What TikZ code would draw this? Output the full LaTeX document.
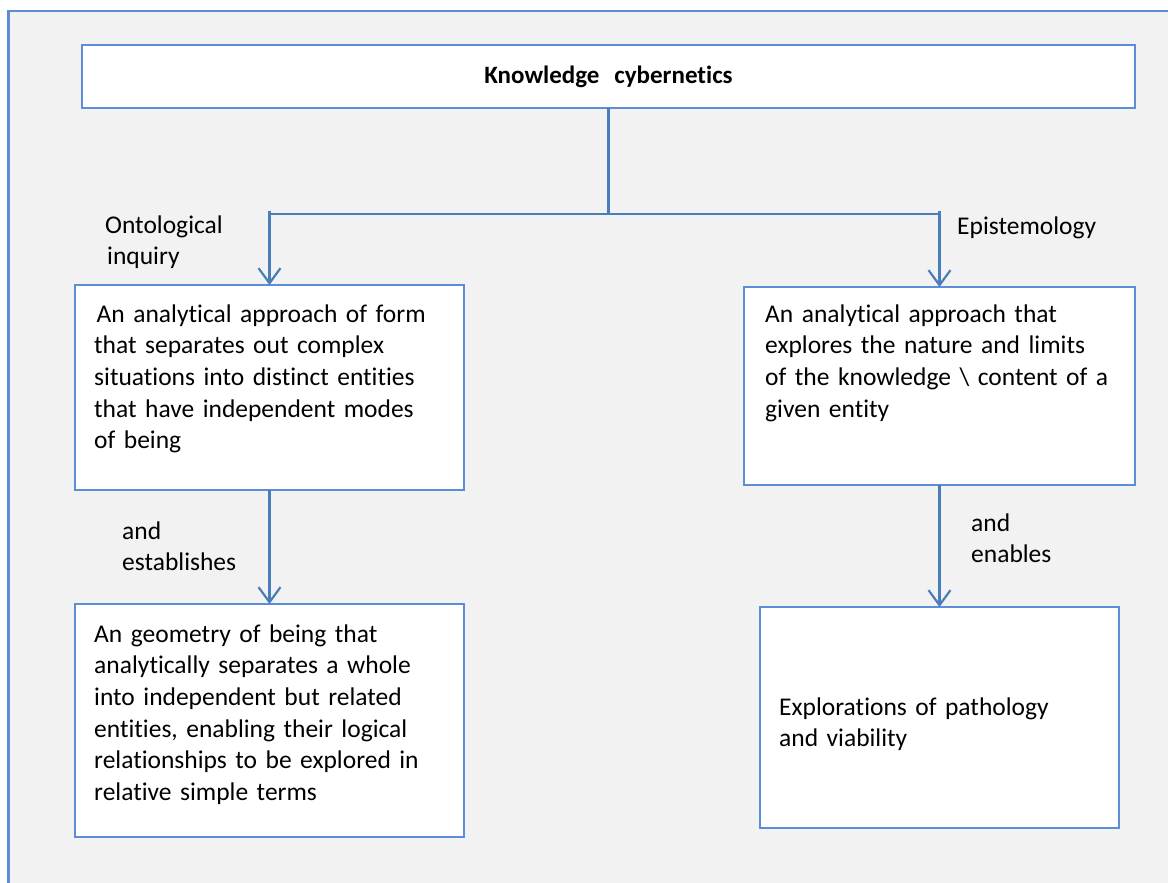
\documentclass[tikz,border=0pt]{standalone}
\usepackage{fontspec}
\setmainfont{Carlito}[Ligatures=NoCommon]
\usetikzlibrary{arrows.meta}
\definecolor{framebg}{HTML}{F2F2F2}
\definecolor{lineblue}{HTML}{4A7EBB}
\definecolor{boxblue}{HTML}{5B8ED6}
\begin{document}
\begin{tikzpicture}[x=1pt,y=-1pt,
  box/.style={draw=boxblue, line width=2.5pt, fill=white, outer sep=0pt, inner sep=0pt, anchor=north west},
  link/.style={draw=lineblue, line width=2.2pt},
  arr/.style={link, -{Straight Barb[length=15pt,width=22pt]}},
  body/.style={anchor=base west, inner sep=0pt, text width=430pt, align=left,
    font=\fontsize{25.5}{31.7}\selectfont},
  lbl/.style={body, text width=200pt},
]
\useasboundingbox (0,0) rectangle (1168,883);
% page frame
\fill[framebg] (8.5,11) rectangle (1180,895);
\draw[boxblue, line width=2.5pt] (8.5,895) -- (8.5,11) -- (1180,11);

% boxes
\node[box, minimum width=1053, minimum height=63,
  font=\bfseries\fontsize{25}{30}\selectfont] (kc) at (82,45)
  {Knowledge\hspace{0.6em}cybernetics};
\node[box, minimum width=389, minimum height=205] (ont) at (75,285) {};
\node[box, minimum width=391, minimum height=198] (epi) at (744,287) {};
\node[box, minimum width=389, minimum height=233] (geo) at (75,604) {};
\node[box, minimum width=359, minimum height=221] (via) at (760,607) {};

% box texts
\node[body] (ontT) at (94,322) {\hspace{2.5pt}An analytical approach of form\\that separates out complex\\situations into distinct entities\\that have independent modes\\of being};
\node[body] (epiT) at (765,322) {An analytical approach that\\explores the nature and limits\\of the knowledge \textbackslash\ content of a\\given entity};
\node[body] (geoT) at (94,642) {An geometry of being that\\analytically separates a whole\\into independent but related\\entities, enabling their logical\\relationships to be explored in\\relative simple terms};
\node[body] (viaT) at (779,715) {Explorations of pathology\\and viability};

% connector labels
\node[lbl] (ontL) at (105,233) {Ontological\\\hspace{2pt}inquiry};
\node[lbl] (epiL) at (957,234) {Epistemology};
\node[lbl] (estL) at (122,539) {and\\establishes};
\node[lbl] (enaL) at (971,531) {and\\enables};

% connectors
\coordinate (hub) at (608.5,214);
\coordinate (lft) at (269.5,211);
\coordinate (rgt) at (939.5,211);
\draw[link] (kc.south) -- (hub);
\draw[link] (lft |- hub) -- (rgt |- hub);
\draw[arr] (lft) -- (ont.north);
\draw[arr] (rgt) -- (epi.north);
\draw[arr] (ont.south) -- (geo.north);
\draw[arr] (epi.south) -- (via.north);
\end{tikzpicture}
\end{document}
